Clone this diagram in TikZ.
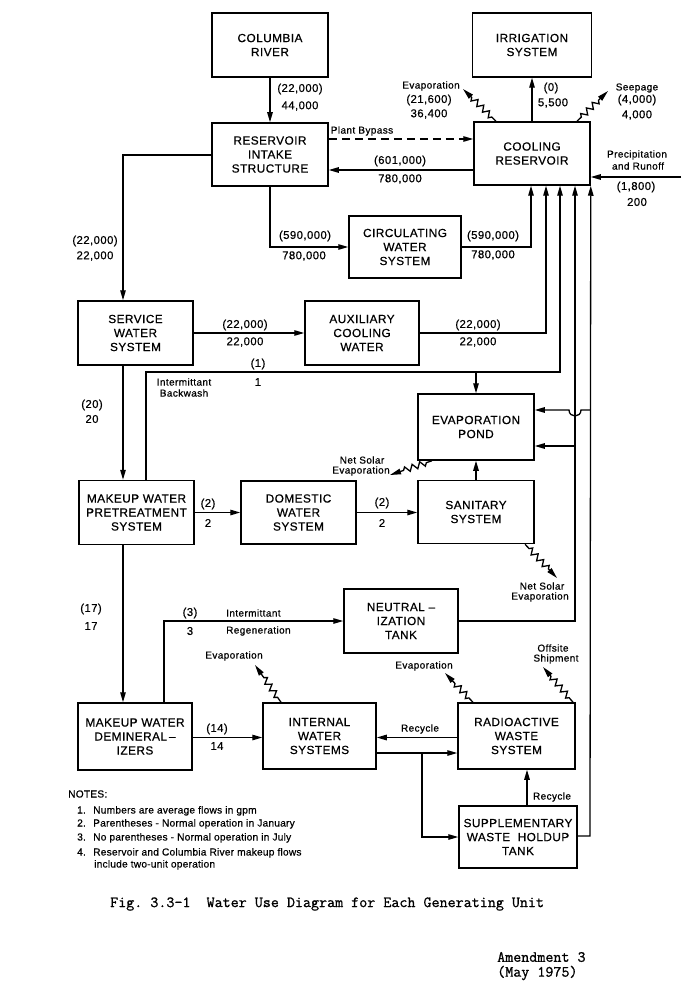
\documentclass[tikz,border=0pt]{standalone}
\usepackage{fontspec}
\setmainfont{Liberation Sans}
\newfontfamily\boxfont[LetterSpace=4, FakeBold=0.6]{Liberation Sans}
\newfontfamily\notefont[LetterSpace=2, FakeBold=0.5]{Liberation Sans}
\newfontfamily\capfont[FakeBold=1]{Latin Modern Mono}
\usetikzlibrary{arrows.meta,decorations.pathmorphing}
\tikzset{
  box/.style={draw, line width=1.5pt, align=center, inner sep=0pt, font=\boxfont\fontsize{11.8}{14}\selectfont},
  num/.style={inner sep=0pt, font=\boxfont\fontsize{11.3}{13}\selectfont},
  sm/.style={inner sep=0pt, font=\boxfont\fontsize{10}{11}\selectfont},
  note/.style={inner sep=0pt, anchor=base west, font=\notefont\fontsize{10.2}{11}\selectfont},
  captext/.style={inner sep=0pt, anchor=west, font=\capfont\frenchspacing\fontsize{15.6}{18}\selectfont},
  ln/.style={line width=1.3pt},
  arr/.style={ln, -{Triangle[length=10pt,width=5.5pt]}},
  dsh/.style={ln, dash pattern=on 8pt off 5pt, -{Triangle[length=10pt,width=5.5pt]}},
  wavy/.style={ln, decorate, decoration={zigzag, segment length=8pt, amplitude=3pt, pre length=6pt, post length=12pt}, -{Triangle[length=11pt,width=5.5pt]}},
}
\begin{document}
\begin{tikzpicture}[x=1pt,y=-1pt]
\useasboundingbox (0,0) rectangle (681,1000);
% boxes
\node[box, minimum width=116pt, minimum height=64pt] (col) at (270,45) {COLUMBIA\\RIVER};
\node[box, minimum width=119pt, minimum height=64pt] (irr) at (532,45) {IRRIGATION\\SYSTEM};
\node[box, minimum width=116pt, minimum height=63pt] (intake) at (270,154.5) {RESERVOIR\\INTAKE\\STRUCTURE};
\node[box, minimum width=116pt, minimum height=63pt] (cool) at (532,153.5) {COOLING\\RESERVOIR};
\node[box, minimum width=112pt, minimum height=62pt] (circ) at (405,247) {CIRCULATING\\WATER\\SYSTEM};
\node[box, minimum width=115pt, minimum height=64pt] (serv) at (135.5,333) {SERVICE\\WATER\\SYSTEM};
\node[box, minimum width=114pt, minimum height=64pt] (aux) at (362,333) {AUXILIARY\\COOLING\\WATER};
\node[box, minimum width=116pt, minimum height=66pt] (pond) at (476,427) {EVAPORATION\\POND};
\node[box, minimum width=115pt, minimum height=64pt] (pre) at (136.5,512.5) {MAKEUP WATER\\PRETREATMENT\\SYSTEM};
\node[box, minimum width=115pt, minimum height=63pt] (dom) at (298.5,512.5) {DOMESTIC\\WATER\\SYSTEM};
\node[box, minimum width=116pt, minimum height=63pt] (san) at (476,512) {SANITARY\\SYSTEM};
\node[box, minimum width=114pt, minimum height=64pt] (neut) at (401,621) {NEUTRAL –\\IZATION\\TANK};
\node[box, minimum width=114pt, minimum height=67pt] (demin) at (135,736.5) {MAKEUP WATER\\DEMINERAL\,–\\IZERS};
\node[box, minimum width=113pt, minimum height=66pt] (intw) at (319.5,736) {INTERNAL\\WATER\\SYSTEMS};
\node[box, minimum width=117pt, minimum height=66pt] (rad) at (516.5,736) {RADIOACTIVE\\WASTE\\SYSTEM};
\node[box, minimum width=118pt, minimum height=62pt] (supp) at (518,837) {SUPPLEMENTARY\\WASTE\ \ HOLDUP\\TANK};

% coordinates
\coordinate (k1) at (123,155);
\coordinate (kb) at (0,139);
\coordinate (kr) at (0,170);
\coordinate (k2) at (270,247);
\coordinate (k3) at (531,247);
\coordinate (k4) at (546,333);
\coordinate (k5) at (146,372);
\coordinate (k6) at (560,372);
\coordinate (k7) at (476,372);
\coordinate (k8) at (123,0);
\coordinate (k9) at (164,621);
\coordinate (k10) at (575,621);
\coordinate (k11) at (575,446);
\coordinate (k12) at (590,836);
\coordinate (k13) at (590,410);
\coordinate (pr) at (681,177);
\coordinate (k14) at (0,737.5);
\coordinate (k16) at (0,753);
\coordinate (k17) at (422,753);
\coordinate (k18) at (422,837);
\coordinate (k19) at (527,0);

% connectors
\draw[arr] (col.south) -- (intake.north);
\draw[arr] (intake.west |- k1) -- (k1) -- (k1 |- serv.north);
\draw[dsh] (intake.east |- kb) -- (cool.west |- kb);
\draw[arr] (cool.west |- kr) -- (intake.east |- kr);
\draw[arr] (intake.south) -- (k2) -- (circ.west);
\draw[arr] (circ.east) -- (k3) -- (k3 |- cool.south);
\draw[arr] (serv.east) -- (aux.west);
\draw[arr] (aux.east) -- (k4) -- (k4 |- cool.south);
\draw[arr] (pre.north -| k5) -- (k5) -- (k6) -- (k6 |- cool.south);
\draw[arr] (k7) -- (pond.north);
\draw[arr] (serv.south -| k8) -- (pre.north -| k8);
\draw[arr] (pre.east) -- (dom.west |- pre.east);
\draw[arr] (dom.east) -- (san.west |- dom.east);
\draw[arr] (san.north) -- (pond.south);
\draw[arr] (pre.south -| k8) -- (demin.north -| k8);
\draw[arr] (demin.north -| k9) -- (k9) -- (neut.west);
\draw[arr] (neut.east) -- (k10) -- (k10 |- cool.south);
\draw[arr] (k11) -- (pond.east |- k11);
\draw[arr] (supp.east |- k12) -- (k12) -- (cool.south east);
\draw[arr] (k13) -- (581,410) .. controls (581,418) and (569,418) .. (569,410) -- (pond.east |- k13);
\draw[arr] (pr) -- (cool.east |- pr);
\draw[arr] (cool.north) -- (irr.south);
\draw[arr] (demin.east |- k14) -- (intw.west |- k14);
\draw[arr] (rad.west |- k14) -- (intw.east |- k14);
\draw[arr] (intw.east |- k16) -- (rad.west |- k16);
\draw[arr] (k17) -- (k18) -- (supp.west |- k18);
\draw[arr] (supp.north -| k19) -- (rad.south -| k19);

% wavy arrows
\coordinate (s1) at (496,0); \coordinate (t1) at (463,89);
\coordinate (s2) at (577,0); \coordinate (t2) at (608,91);
\coordinate (s3) at (432,0); \coordinate (t3) at (390,475);
\coordinate (s4) at (525,0); \coordinate (t4) at (557,578);
\coordinate (s5) at (281,0); \coordinate (t5) at (255,665);
\coordinate (s6) at (473,0); \coordinate (t6) at (445,673);
\coordinate (s7) at (573,0); \coordinate (t7) at (543,667);
\draw[wavy] (cool.north -| s1) -- (t1);
\draw[wavy] (cool.north -| s2) -- (t2);
\draw[wavy] (pond.south -| s3) -- (t3);
\draw[wavy] (san.south -| s4) -- (t4);
\draw[wavy] (intw.north -| s5) -- (t5);
\draw[wavy] (rad.north -| s6) -- (t6);
\draw[wavy] (rad.north -| s7) -- (t7);

% labels
\node[num] (l1a) at (300,89) {(22,000)};
\node[num] (l1b) at (300,106) {44,000};
\node[sm] (l2a) at (431,86) {Evaporation};
\node[num] (l2b) at (429,100) {(21,600)};
\node[num] (l2c) at (429,114) {36,400};
\node[num] (l3a) at (551,88) {(0)};
\node[num] (l3b) at (553,103) {5,500};
\node[sm] (l4a) at (637,88) {Seepage};
\node[num] (l4b) at (637,100) {(4,000)};
\node[num] (l4c) at (637,115) {4,000};
\node[sm] (l5) at (362,131) {Plant Bypass};
\node[num] (l6a) at (400,161) {(601,000)};
\node[num] (l6b) at (400,179) {780,000};
\node[sm] (l7a) at (637,155) {Precipitation};
\node[sm] (l7b) at (638,166) {and Runoff};
\node[num] (l7c) at (636,187) {(1,800)};
\node[num] (l7d) at (637,202) {200};
\node[num] (l8a) at (95,241) {(22,000)};
\node[num] (l8b) at (95,256) {22,000};
\node[num] (l9a) at (305,236) {(590,000)};
\node[num] (l9b) at (304,256) {780,000};
\node[num] (l10a) at (493,236) {(590,000)};
\node[num] (l10b) at (493,255) {780,000};
\node[num] (l11a) at (245,325) {(22,000)};
\node[num] (l11b) at (245,342) {22,000};
\node[num] (l12a) at (478,325) {(22,000)};
\node[num] (l12b) at (478,342) {22,000};
\node[num] (l13a) at (258,364) {(1)};
\node[num] (l13b) at (258,382) {1};
\node[sm] (l14a) at (184,382) {Intermittant};
\node[sm] (l14b) at (184,393) {Backwash};
\node[num] (l15a) at (92,405) {(20)};
\node[num] (l15b) at (92,419) {20};
\node[sm] (l16a) at (362,460) {Net Solar};
\node[sm] (l16b) at (361,471) {Evaporation};
\node[num] (l17a) at (208,504) {(2)};
\node[num] (l17b) at (208,523) {2};
\node[num] (l18a) at (382,503) {(2)};
\node[num] (l18b) at (382,523) {2};
\node[sm] (l19a) at (542,586) {Net Solar};
\node[sm] (l19b) at (540,597) {Evaporation};
\node[num] (l20a) at (91,609) {(17)};
\node[num] (l20b) at (91,626) {17};
\node[num] (l21a) at (190,613) {(3)};
\node[num] (l21b) at (190,631) {3};
\node[sm, anchor=west] (l22a) at (226,613) {Intermittant};
\node[sm, anchor=west] (l22b) at (226,631) {Regeneration};
\node[sm] (l23) at (234,656) {Evaporation};
\node[sm] (l24) at (424,666) {Evaporation};
\node[sm] (l25a) at (553,648) {Offsite};
\node[sm] (l25b) at (556,659) {Shipment};
\node[num] (l26a) at (217,729) {(14)};
\node[num] (l26b) at (217,746) {14};
\node[sm] (l27) at (420,729) {Recycle};
\node[sm] (l28) at (552,797) {Recycle};

% notes
\node[note] (nh) at (68,797.5) {NOTES:};
\node[note] (n1) at (77,813.5) {1.};
\node[note] (n1t) at (93,813.5) {Numbers are average flows in gpm};
\node[note] (n2) at (77,826.5) {2.};
\node[note] (n2t) at (93,826.5) {Parentheses - Normal operation in January};
\node[note] (n3) at (77,840.5) {3.};
\node[note] (n3t) at (93,840.5) {No parentheses - Normal operation in July};
\node[note] (n4) at (77,855.5) {4.};
\node[note] (n4t) at (93,855.5) {Reservoir and Columbia River makeup flows};
\node[note] (n4u) at (94,867.5) {include two-unit operation};

% caption
\node[captext] (capt) at (110,904) {Fig. 3.3-1\ \ Water Use Diagram for Each Generating Unit};
\node[captext] (am1) at (497,957) {Amendment 3};
\node[captext] (am2) at (497,973) {(May 1975)};
\end{tikzpicture}
\end{document}
